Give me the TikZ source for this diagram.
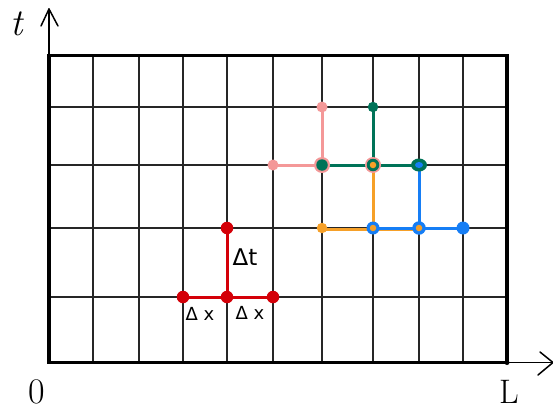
\documentclass[tikz,border=0pt]{standalone}
\usepackage{fontspec}
\usetikzlibrary{shapes.geometric}
\newfontfamily\hand{DejaVu Sans}
\definecolor{cred}{RGB}{212,0,8}
\definecolor{cpink}{RGB}{244,152,152}
\definecolor{cgreen}{RGB}{0,115,88}
\definecolor{corange}{RGB}{246,160,40}
\definecolor{cblue}{RGB}{22,126,245}
\tikzset{
  gridline/.style={line width=1.4pt, draw=black!85},
  frame/.style={line width=3.4pt, draw=black},
  axisline/.style={line width=1.5pt, draw=black, line cap=round, line join=round},
  dot/.style={circle, inner sep=0pt, minimum size=#1},
  seg/.style={line width=3pt, line cap=round},
  lbl/.style={inner sep=0pt, font=\hand\fontsize{18}{18}\selectfont},
}
\begin{document}
\begin{tikzpicture}[x=1pt,y=-1pt]
\useasboundingbox (0,0) rectangle (553,412);
% grid
\foreach \x in {93,139,183,227,273,322,373,419,463}
  \draw[gridline] (\x,55.5) -- (\x,362.5);
\foreach \y in {107,165,228,297}
  \draw[gridline] (49,\y) -- (507,\y);
\draw[frame] (49,55.5) rectangle (507,362.5);
% axes
\coordinate (ttip) at (49,9);
\coordinate (origin) at (49,55.5);
\coordinate (tl) at (41,26);
\coordinate (tr) at (58,26);
\draw[axisline] (origin) -- (ttip);
\draw[axisline] (tl) -- (ttip) -- (tr);
\node[dot=5pt, fill=black] (Ldot) at (507,362.5) {};
\coordinate (xtip) at (553,362.5);
\coordinate (xu) at (540,352);
\coordinate (xd) at (538,375);
\draw[axisline] (Ldot.center) -- (xtip);
\draw[axisline] (xu) -- (xtip) -- (xd);
\node[inner sep=0pt, font=\itshape\fontsize{38}{38}\selectfont] (tlab) at (17,24) {t};
\node[inner sep=0pt, font=\fontsize{36}{36}\selectfont] (zero) at (37,392) {0};
\node[inner sep=0pt, font=\fontsize{34}{34}\selectfont] (Llab) at (509,392) {L};
% red stencil
\node[dot=12.5pt, fill=cred] (r1) at (183,297) {};
\node[dot=12.5pt, fill=cred] (r2) at (227,297) {};
\node[dot=12.5pt, fill=cred] (r3) at (273,297) {};
\node[dot=12.5pt, fill=cred] (r4) at (227,228) {};
\draw[seg, cred] (r1.center) -- (r3.center);
\draw[seg, cred] (r2.center) -- (r4.center);
\node[lbl, font=\hand\fontsize{23}{23}\selectfont] (dt) at (245,257) {Δt};
\node[lbl] (dx1) at (200,314) {Δ x};
\node[lbl] (dx2) at (250,313) {Δ x};
% coordinates for coloured stencils
\coordinate (a1) at (273,165);
\coordinate (a2) at (322,165);
\coordinate (a3) at (373,165);
\coordinate (a4) at (419,165);
\coordinate (b2) at (322,107);
\coordinate (b3) at (373,107);
\coordinate (c2) at (322,228);
\coordinate (c3) at (373,228);
\coordinate (c4) at (419,228);
\coordinate (c5) at (463,228);
\coordinate (c4l) at (419,229.5);
\coordinate (c2l) at (322,229.5);
% lines
\draw[seg, cpink] (a1) -- (a3);
\draw[seg, cpink] (a2) -- (b2);
\draw[seg, corange] (c2l) -- (c4l);
\draw[seg, corange] (c3) -- (a3);
\draw[seg, cgreen] (a2) -- (a4);
\draw[seg, cgreen] (a3) -- (b3);
\draw[seg, cblue] (c3) -- (c5);
\draw[seg, cblue] (c4) -- (a4);
% pink dots
\node[dot=11pt, fill=cpink] (p1) at (a1) {};
\node[dot=11pt, fill=cpink] (p2) at (b2) {};
\node[dot=16pt, fill=cpink] (p3) at (a2) {};
\node[dot=16pt, fill=cpink] (p4) at (a3) {};
% green dots
\node[dot=10.5pt, fill=cgreen] (g1) at (b3) {};
\node[dot=11.5pt, fill=cgreen] (g2) at (a2) {};
\node[dot=12.5pt, fill=cgreen] (g3) at (a3) {};
\node[ellipse, inner sep=0pt, minimum height=13pt, minimum width=16pt, fill=cgreen] (g4) at (a4) {};
% blue dots
\node[dot=13pt, fill=cblue] (u1) at (c5) {};
\node[dot=13pt, fill=cblue] (u2) at (c3) {};
\node[dot=13.5pt, fill=cblue] (u3) at (c4) {};
\node[ellipse, inner sep=0pt, minimum height=6pt, minimum width=8pt, fill=cblue] (u4) at (a4) {};
% orange dots
\node[dot=10.5pt, fill=corange] (o1) at (c2) {};
\node[dot=6.5pt, fill=corange] (o2) at (a3) {};
\node[dot=6.5pt, fill=corange] (o3) at (c3) {};
\node[dot=6.5pt, fill=corange] (o4) at (c4) {};
\end{tikzpicture}
\end{document}
